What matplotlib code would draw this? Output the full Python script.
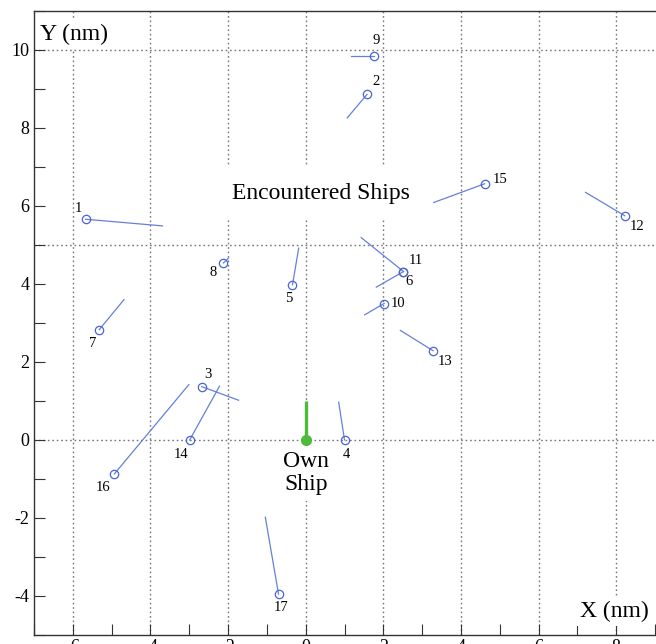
import matplotlib.pyplot as plt

# encountered ships: position and tip of the velocity vector (nm)
ship_ids = [1, 2, 3, 4, 5, 6, 7, 8, 9, 10, 11, 12, 13, 14, 15, 16, 17]
ship_x = [-5.67, 1.58, -2.68, 1.00, -0.34, 2.52, -5.32, -2.12, 1.76, 2.02, 2.52, 8.22, 3.28, -2.99, 4.61, -4.93, -0.70]
ship_y = [5.66, 8.86, 1.37, 0.00, 3.98, 4.32, 2.83, 4.54, 9.85, 3.50, 4.32, 5.75, 2.29, 0.00, 6.57, -0.87, -3.95]
tip_x = [-3.69, 1.07, -1.73, 0.85, -0.18, 1.82, -4.68, -1.99, 1.17, 1.52, 1.43, 7.21, 2.44, -2.22, 3.30, -3.01, -1.04]
tip_y = [5.49, 8.26, 1.02, 0.97, 4.92, 3.92, 3.60, 4.66, 9.85, 3.21, 5.19, 6.35, 2.81, 1.38, 6.09, 1.42, -1.98]

own_x, own_y = 0.0, 0.0
own_tip_x, own_tip_y = 0.0, 1.0

# where each id label sits relative to its marker (pixels)
label_offsets = {
    1: (-7, 11), 2: (9, 13), 3: (6, 12), 4: (2, -15), 5: (-4, -14),
    6: (6, -10), 7: (-7, -14), 8: (-10, -10), 9: (2, 15), 10: (14, 0),
    11: (12, 11), 12: (12, -11), 13: (12, -11), 14: (-9, -14),
    15: (15, 4), 16: (-11, -14), 17: (3, -13),
}

plt.rcParams["font.family"] = ["Liberation Serif", "DejaVu Serif"]
plt.rcParams["axes.unicode_minus"] = False

fig = plt.figure(figsize=(6.56, 6.44), dpi=100)
ax = fig.add_axes([34 / 656, 9 / 644, 621 / 656, 624 / 644])
ax.set_xlim(-7, 9)
ax.set_ylim(-5, 11)

ax.set_xticks(range(-6, 9, 2))
ax.set_xticks(range(-7, 10, 2), minor=True)
ax.set_yticks(range(-4, 11, 2))
ax.set_yticks(range(-5, 12, 2), minor=True)
ax.tick_params(which="both", direction="in", labelsize=13, width=0.8, color="#333333", length=8)
ax.tick_params(axis="x", pad=3)
for s in ax.spines.values():
    s.set_color("#333333")
    s.set_linewidth(1.0)
ax.spines["right"].set_visible(False)

grid_kw = dict(color="#777777", linestyle=(0, (1.2, 2.0)), linewidth=1.0, zorder=0)
for gx in range(-6, 9, 2):
    ax.axvline(gx, **grid_kw)
for gy in (0, 5, 10):
    ax.axhline(gy, **grid_kw)

for i, sid in enumerate(ship_ids):
    ax.plot([ship_x[i], tip_x[i]], [ship_y[i], tip_y[i]], color="#6580da", lw=0.9, zorder=3)
    ax.plot(ship_x[i], ship_y[i], marker="o", ms=6, mfc="none", mec="#4a64d8", mew=0.9, zorder=4)
    dx, dy = label_offsets[sid]
    ax.annotate(str(sid), (ship_x[i], ship_y[i]), xytext=(dx, dy), textcoords="offset pixels",
                ha="center", va="center", fontsize=10.5, zorder=5)

ax.plot([own_x, own_tip_x], [own_y, own_tip_y], color="#4cbb3a", lw=2.4, solid_capstyle="butt", zorder=5)
ax.plot(own_x, own_y, marker="o", ms=7, color="#4cbb3a", zorder=6)

box = dict(boxstyle="square,pad=0.7", facecolor="white", edgecolor="none")
ax.text(0.4, 6.33, "Encountered Ships", fontsize=17, ha="center", va="center", bbox=box, zorder=2)
ax.text(0.0, -0.85, "Own\nShip", fontsize=17, ha="center", va="center", linespacing=1.15,
        bbox=dict(boxstyle="square,pad=0.25", facecolor="white", edgecolor="none"), zorder=2)
small_box = dict(boxstyle="square,pad=0.15", facecolor="white", edgecolor="none")
ax.text(-6.85, 10.4, "Y (nm)", fontsize=17, ha="left", va="center", bbox=small_box, zorder=2)
ax.text(8.85, -4.4, "X (nm)", fontsize=17, ha="right", va="center", bbox=small_box, zorder=2)

fig.savefig("out.png", dpi=100)
